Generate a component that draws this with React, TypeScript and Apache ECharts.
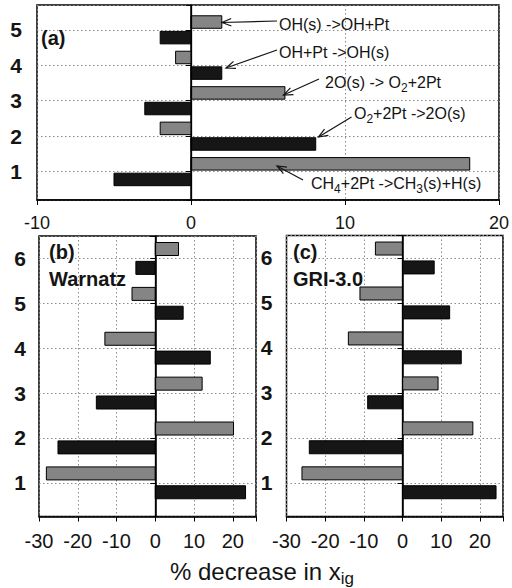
import React, { useEffect, useRef } from "react";
import * as echarts from "echarts";

// ---- data ----
const catsA = [1, 2, 3, 4, 5];
const blackA = [-5, 8.1, -3, 2, -2];
const grayA = [18.1, -2, 6.1, -1, 2];

const catsBC = [1, 2, 3, 4, 5, 6];
const blackB = [23.3, -25.1, -15.2, 14.2, 7.2, -5];
const grayB = [-28.1, 20.2, 12.1, -13, -6, 6];
const blackC = [24.2, -24.1, -9, 15.2, 12.2, 8.2];
const grayC = [-26, 18.2, 9.2, -14, -11, -7];

const FONT = "'Liberation Sans', Arial, Helvetica, sans-serif";
const INK = "#141414";
const GRAYFILL = "#858585";
const BLACKFILL = "#161616";

function barRender(offset: number, thick: number, fill: string) {
  return (params: any, api: any) => {
    const v = api.value(0);
    const k = api.value(1);
    const p0 = api.coord([0, k + offset]);
    const p1 = api.coord([v, k + offset]);
    const x = Math.min(p0[0], p1[0]);
    const w = Math.abs(p1[0] - p0[0]);
    return {
      type: "rect",
      shape: { x, y: p0[1] - thick / 2, width: w, height: thick },
      style: { fill, stroke: "#000", lineWidth: 1 },
    };
  };
}

function arrow(x1: number, y1: number, x2: number, y2: number) {
  const ang = Math.atan2(y2 - y1, x2 - x1);
  const L = 10;
  const a = 0.38;
  const h1 = [x2 - L * Math.cos(ang - a), y2 - L * Math.sin(ang - a)];
  const h2 = [x2 - L * Math.cos(ang + a), y2 - L * Math.sin(ang + a)];
  return [
    { type: "line", shape: { x1, y1, x2, y2 }, style: { stroke: INK, lineWidth: 1.2 }, z: 100 },
    { type: "polyline", shape: { points: [h1, [x2, y2], h2] }, style: { stroke: INK, lineWidth: 1.2, fill: null }, z: 100 },
  ];
}

function annText(text: string, x: number, y: number) {
  return {
    type: "text",
    z: 100,
    style: {
      text,
      x,
      y,
      fill: INK,
      fontFamily: FONT,
      fontSize: 16,
      lineHeight: 24,
      verticalAlign: "middle",
      align: "left",
      rich: {
        s: { fontSize: 12, lineHeight: 12, verticalAlign: "bottom", fontFamily: FONT, fill: INK },
      },
    },
  };
}

function boldLabel(text: string, x: number, y: number) {
  return {
    type: "text",
    z: 100,
    style: {
      text,
      x,
      y,
      fill: INK,
      fontFamily: FONT,
      fontSize: 20,
      fontWeight: "bold",
      verticalAlign: "middle",
      align: "left",
    },
  };
}

const splitLine = { show: true, lineStyle: { type: [1.5, 2.5], color: "#8a8a8a", width: 1 } };

function yAxis(gridIndex: number, min: number, max: number, margin: number) {
  return {
    type: "value",
    gridIndex,
    min,
    max,
    minInterval: 1,
    maxInterval: 1,
    axisLine: { show: true, lineStyle: { color: "#000", width: 1.5 } },
    axisTick: { show: true, length: 5, lineStyle: { color: "#000", width: 1 } },
    axisLabel: {
      fontFamily: FONT,
      fontSize: 21,
      fontWeight: "bold",
      color: INK,
      margin,
      formatter: (v: number) => (Math.abs(v - Math.round(v)) < 1e-6 ? String(Math.round(v)) : ""),
    },
    splitLine,
  };
}

function xAxis(gridIndex: number, min: number, max: number, fontSize: number) {
  return {
    type: "value",
    gridIndex,
    min,
    max,
    interval: 10,
    axisLine: { show: true, onZero: false, lineStyle: { color: "#000", width: 1.5 } },
    axisTick: { show: true, length: 5, lineStyle: { color: "#000", width: 1 } },
    axisLabel: {
      fontFamily: FONT,
      fontSize,
      color: INK,
      margin: 14,
      formatter: (v: number) => (Math.abs(v % 10) < 1e-6 ? String(v) : ""),
    },
    splitLine,
  };
}

function barSeries(idx: number, cats: number[], vals: number[], offset: number, thick: number, fill: string, withZero: boolean) {
  const s: any = {
    type: "custom",
    xAxisIndex: idx,
    yAxisIndex: idx,
    renderItem: barRender(offset, thick, fill),
    encode: { x: 0, y: 1 },
    data: vals.map((v, i) => [v, cats[i]]),
    z: 5,
  };
  if (withZero) {
    s.markLine = {
      silent: true,
      symbol: "none",
      label: { show: false },
      lineStyle: { color: "#000", type: "solid", width: 1.3 },
      data: [{ xAxis: 0 }],
      z: 6,
    };
  }
  return s;
}

export default function App() {
  const ref = useRef<HTMLDivElement>(null);
  useEffect(() => {
    if (!ref.current) return;
    const chart = echarts.init(ref.current, null, { renderer: "svg" });
    const graphic: any[] = [
      boldLabel("(a)", 41, 38),
      boldLabel("(b)", 49, 252),
      boldLabel("Warnatz", 49, 279),
      boldLabel("(c)", 293, 252),
      boldLabel("GRI-3.0", 293, 279),
      annText("OH(s) ->OH+Pt", 279, 24),
      annText("OH+Pt ->OH(s)", 279, 52),
      annText("2O(s) -> O{s|2}+2Pt", 325, 82),
      annText("O{s|2}+2Pt ->2O(s)", 354, 113),
      annText("CH{s|4}+2Pt ->CH{s|3}(s)+H(s)", 311, 183),
      ...arrow(277, 21, 222, 22.5),
      ...arrow(277, 50, 226, 68),
      ...arrow(319, 79, 283.5, 95),
      ...arrow(351.5, 117, 318.5, 137),
      ...arrow(303, 180, 277, 166),
      {
        type: "text",
        z: 100,
        style: {
          text: "% decrease in x{s|ig}",
          x: 262,
          y: 571,
          fill: INK,
          fontFamily: FONT,
          fontSize: 24,
          lineHeight: 32,
          align: "center",
          verticalAlign: "middle",
          rich: { s: { fontSize: 17, lineHeight: 17, verticalAlign: "bottom", fontFamily: FONT, fill: INK } },
        },
      },
    ];
    chart.setOption({
      animation: false,
      backgroundColor: "#fff",
      grid: [
        { left: 37, top: 5, width: 464, height: 195, show: true, borderColor: "#000", borderWidth: 1.5 },
        { left: 39, top: 236, width: 217, height: 280.5, show: true, borderColor: "#000", borderWidth: 1.5 },
        { left: 286.5, top: 235.5, width: 216.5, height: 281, show: true, borderColor: "#000", borderWidth: 1.5 },
      ],
      xAxis: [xAxis(0, -10, 20, 18), xAxis(1, -30, 26, 20), xAxis(2, -30, 26, 20)],
      yAxis: [yAxis(0, 0.2, 5.7, 15), yAxis(1, 0.25, 6.5, 13), yAxis(2, 0.25, 6.5, 14)],
      series: [
        barSeries(0, catsA, blackA, -0.22, 12.5, BLACKFILL, true),
        barSeries(0, catsA, grayA, 0.22, 12.5, GRAYFILL, false),
        barSeries(1, catsBC, blackB, -0.21, 13, BLACKFILL, true),
        barSeries(1, catsBC, grayB, 0.21, 13, GRAYFILL, false),
        barSeries(2, catsBC, blackC, -0.21, 13, BLACKFILL, true),
        barSeries(2, catsBC, grayC, 0.21, 13, GRAYFILL, false),
      ],
      graphic,
    });
    return () => chart.dispose();
  }, []);
  return <div ref={ref} style={{ position: "fixed", left: 0, top: 0, width: 512, height: 588 }} />;
}
